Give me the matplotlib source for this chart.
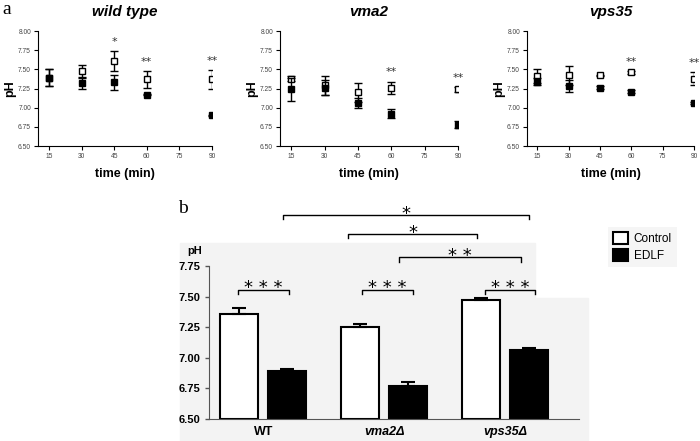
"""
Intracellular pH time course (panel a) and 90 min endpoint bars (panel b).
"""

import matplotlib
matplotlib.use("Agg")
import matplotlib.pyplot as plt
from matplotlib.patches import Rectangle
from matplotlib.ticker import FormatStrFormatter

plt.rcParams["font.family"] = ["Liberation Sans", "DejaVu Sans"]

# ---------------------------------------------------------------------------
# Data
# ---------------------------------------------------------------------------

time_min = [15, 30, 45, 60, 90]
time_ticks = [15, 30, 45, 60, 75, 90]
ph_ticks = [6.50, 6.75, 7.00, 7.25, 7.50, 7.75, 8.00]

panel_titles = ["wild type", "vma2", "vps35"]

wt_ctrl = [7.39, 7.48, 7.61, 7.37, 7.37]
wt_ctrl_err = [0.11, 0.08, 0.13, 0.11, 0.12]
wt_edlf = [7.39, 7.32, 7.33, 7.17, 6.90]
wt_edlf_err = [0.11, 0.07, 0.10, 0.01, 0.01]
wt_star_t = [45, 60, 90]
wt_stars = ["*", "**", "**"]

vma2_ctrl = [7.38, 7.29, 7.20, 7.26, 7.24]
vma2_ctrl_err = [0.03, 0.12, 0.12, 0.08, 0.03]
vma2_edlf = [7.24, 7.26, 7.06, 6.92, 6.78]
vma2_edlf_err = [0.15, 0.10, 0.07, 0.06, 0.05]
vma2_star_t = [60, 90]
vma2_stars = ["**", "**"]

vps35_ctrl = [7.41, 7.42, 7.42, 7.46, 7.38]
vps35_ctrl_err = [0.09, 0.13, 0.01, 0.02, 0.08]
vps35_edlf = [7.34, 7.28, 7.26, 7.21, 7.06]
vps35_edlf_err = [0.05, 0.08, 0.02, 0.02, 0.01]
vps35_star_t = [60, 90]
vps35_stars = ["**", "**"]

bar_groups = ["WT", "vma2Δ", "vps35Δ"]
bar_ctrl = [7.36, 7.25, 7.47]
bar_ctrl_err = [0.05, 0.03, 0.02]
bar_edlf = [6.89, 6.77, 7.06]
bar_edlf_err = [0.02, 0.03, 0.02]
bar_ticks = [6.50, 6.75, 7.00, 7.25, 7.50, 7.75]

W, H = 700, 441
fig = plt.figure(figsize=(W / 100, H / 100), dpi=100)


def frac(x0, y_top, x1, y_bot):
    """pixel box -> figure fraction [left, bottom, width, height]"""
    return [x0 / W, 1 - y_bot / H, (x1 - x0) / W, (y_bot - y_top) / H]


# ---------------------------------------------------------------------------
# Panel a: time courses
# ---------------------------------------------------------------------------

series = [
    (wt_ctrl, wt_ctrl_err, wt_edlf, wt_edlf_err, wt_star_t, wt_stars),
    (vma2_ctrl, vma2_ctrl_err, vma2_edlf, vma2_edlf_err, vma2_star_t, vma2_stars),
    (vps35_ctrl, vps35_ctrl_err, vps35_edlf, vps35_edlf_err, vps35_star_t, vps35_stars),
]
boxes = [(38, 212), (280, 458), (527, 694)]

for (x0, x1), title, (c, ce, e, ee, st, ss) in zip(boxes, panel_titles, series):
    ax = fig.add_axes(frac(x0, 31, x1, 146))
    ax.errorbar(time_min, c, yerr=ce, fmt="s", color="black", mfc="white",
                mec="black", ms=5, mew=1.0, capsize=3, elinewidth=1.0, zorder=3)
    ax.errorbar(time_min, e, yerr=ee, fmt="s", color="black", mfc="black",
                ms=5, capsize=3, elinewidth=1.0, zorder=4)
    for t, s in zip(st, ss):
        i = time_min.index(t)
        ax.annotate(s, (t, c[i] + ce[i]), xytext=(0, 3), textcoords="offset points",
                    ha="center", va="bottom", fontsize=8, color="#333333",
                    family="DejaVu Sans", annotation_clip=False)
    ax.set_xlim(10, 90)
    ax.set_ylim(6.5, 8.0)
    ax.set_xticks(time_ticks)
    ax.set_yticks(ph_ticks)
    ax.yaxis.set_major_formatter(FormatStrFormatter("%.2f"))
    ax.tick_params(labelsize=4.8, labelcolor="#444444", length=3, width=0.8, pad=2)
    for side in ("top", "right"):
        ax.spines[side].set_visible(False)
    ax.set_title(title, fontsize=11, fontweight="bold", style="italic", pad=11)
    ax.set_xlabel("time (min)", fontsize=9, fontweight="bold", labelpad=6)
    ax.set_ylabel("pH", fontsize=9, fontweight="bold")
    ax.yaxis.set_label_coords(-22 / (x1 - x0), 0.5)

fig.text(2 / W, 1 - 9 / H, "a", fontsize=14, family="Liberation Serif", va="center")

# ---------------------------------------------------------------------------
# Panel b: bars
# ---------------------------------------------------------------------------

fig.patches.append(Rectangle((180 / W, 0), (535 - 180) / W, 1 - 243 / H,
                             transform=fig.transFigure, color="#f3f3f3", zorder=-5))
fig.patches.append(Rectangle((535 / W, 0), (588 - 535) / W, 1 - 298 / H,
                             transform=fig.transFigure, color="#f3f3f3", zorder=-5))

bx = fig.add_axes(frac(209, 266, 579, 419))
bx.patch.set_alpha(0)
pos = list(range(len(bar_groups)))
off, bw = 0.2, 0.314
xc = [p - off for p in pos]
xe = [p + off for p in pos]
bx.bar(xc, [v - 6.5 for v in bar_ctrl], bottom=6.5, width=bw, color="white",
       edgecolor="black", linewidth=1.5, label="Control", zorder=2)
bx.bar(xe, [v - 6.5 for v in bar_edlf], bottom=6.5, width=bw, color="black",
       edgecolor="black", linewidth=1.5, label="EDLF", zorder=2)
bx.errorbar(xc, bar_ctrl, yerr=[[0] * 3, bar_ctrl_err], fmt="none", ecolor="black",
            capsize=5, elinewidth=1.5, capthick=1.5, zorder=3)
bx.errorbar(xe, bar_edlf, yerr=[[0] * 3, bar_edlf_err], fmt="none", ecolor="black",
            capsize=5, elinewidth=1.5, capthick=1.5, zorder=3)

bx.set_xlim(-0.448, 2.61)
bx.set_ylim(6.5, 7.75)
bx.set_yticks(bar_ticks)
bx.yaxis.set_major_formatter(FormatStrFormatter("%.2f"))
bx.set_xticks(pos)
bx.set_xticklabels(bar_groups)
for lab, st in zip(bx.get_xticklabels(), ["normal", "italic", "italic"]):
    lab.set_style(st)
    lab.set_fontweight("bold")
    lab.set_fontsize(9)
bx.tick_params(axis="x", length=0, pad=5)
bx.tick_params(axis="y", labelsize=8, length=3, width=1, color="#555555")
for lab in bx.get_yticklabels():
    lab.set_fontweight("bold")
for side in ("top", "right"):
    bx.spines[side].set_visible(False)
bx.spines["left"].set_color("#555555")
bx.spines["bottom"].set_color("#555555")


def bracket(x0, x1, y, text, fs=13, drop=0.035):
    bx.plot([x0, x0, x1, x1], [y - drop, y, y, y - drop], color="black", lw=1,
            clip_on=False, zorder=4)
    bx.annotate(text, ((x0 + x1) / 2, y), xytext=(0, -2.5), textcoords="offset points",
                ha="center", va="baseline", fontsize=fs, family="DejaVu Sans",
                annotation_clip=False)


bracket(-0.208, 0.213, 7.555, "* * *")
bracket(0.816, 1.238, 7.555, "* * *")
bracket(1.833, 2.246, 7.555, "* * *")
bracket(1.12, 2.13, 7.82, "* *")
bracket(0.70, 1.77, 8.01, "*")
bracket(0.164, 2.197, 8.166, "*")

fig.text(195 / W, 1 - 251 / H, "pH", fontsize=8, fontweight="bold",
         ha="center", va="center")
fig.text(183 / W, 1 - 209 / H, "b", fontsize=14, family="Liberation Serif",
         ha="center", va="center")

leg = fig.legend(loc="upper left", bbox_to_anchor=(602 / W, 1 - 221 / H),
                 fontsize=8.5, handlelength=1.3, handleheight=1.3,
                 handletextpad=0.5, labelspacing=0.3, borderpad=0.4,
                 frameon=True, fancybox=False)
leg.get_frame().set_facecolor("#f3f3f3")
leg.get_frame().set_edgecolor("none")

fig.savefig("out.png", dpi=100)
